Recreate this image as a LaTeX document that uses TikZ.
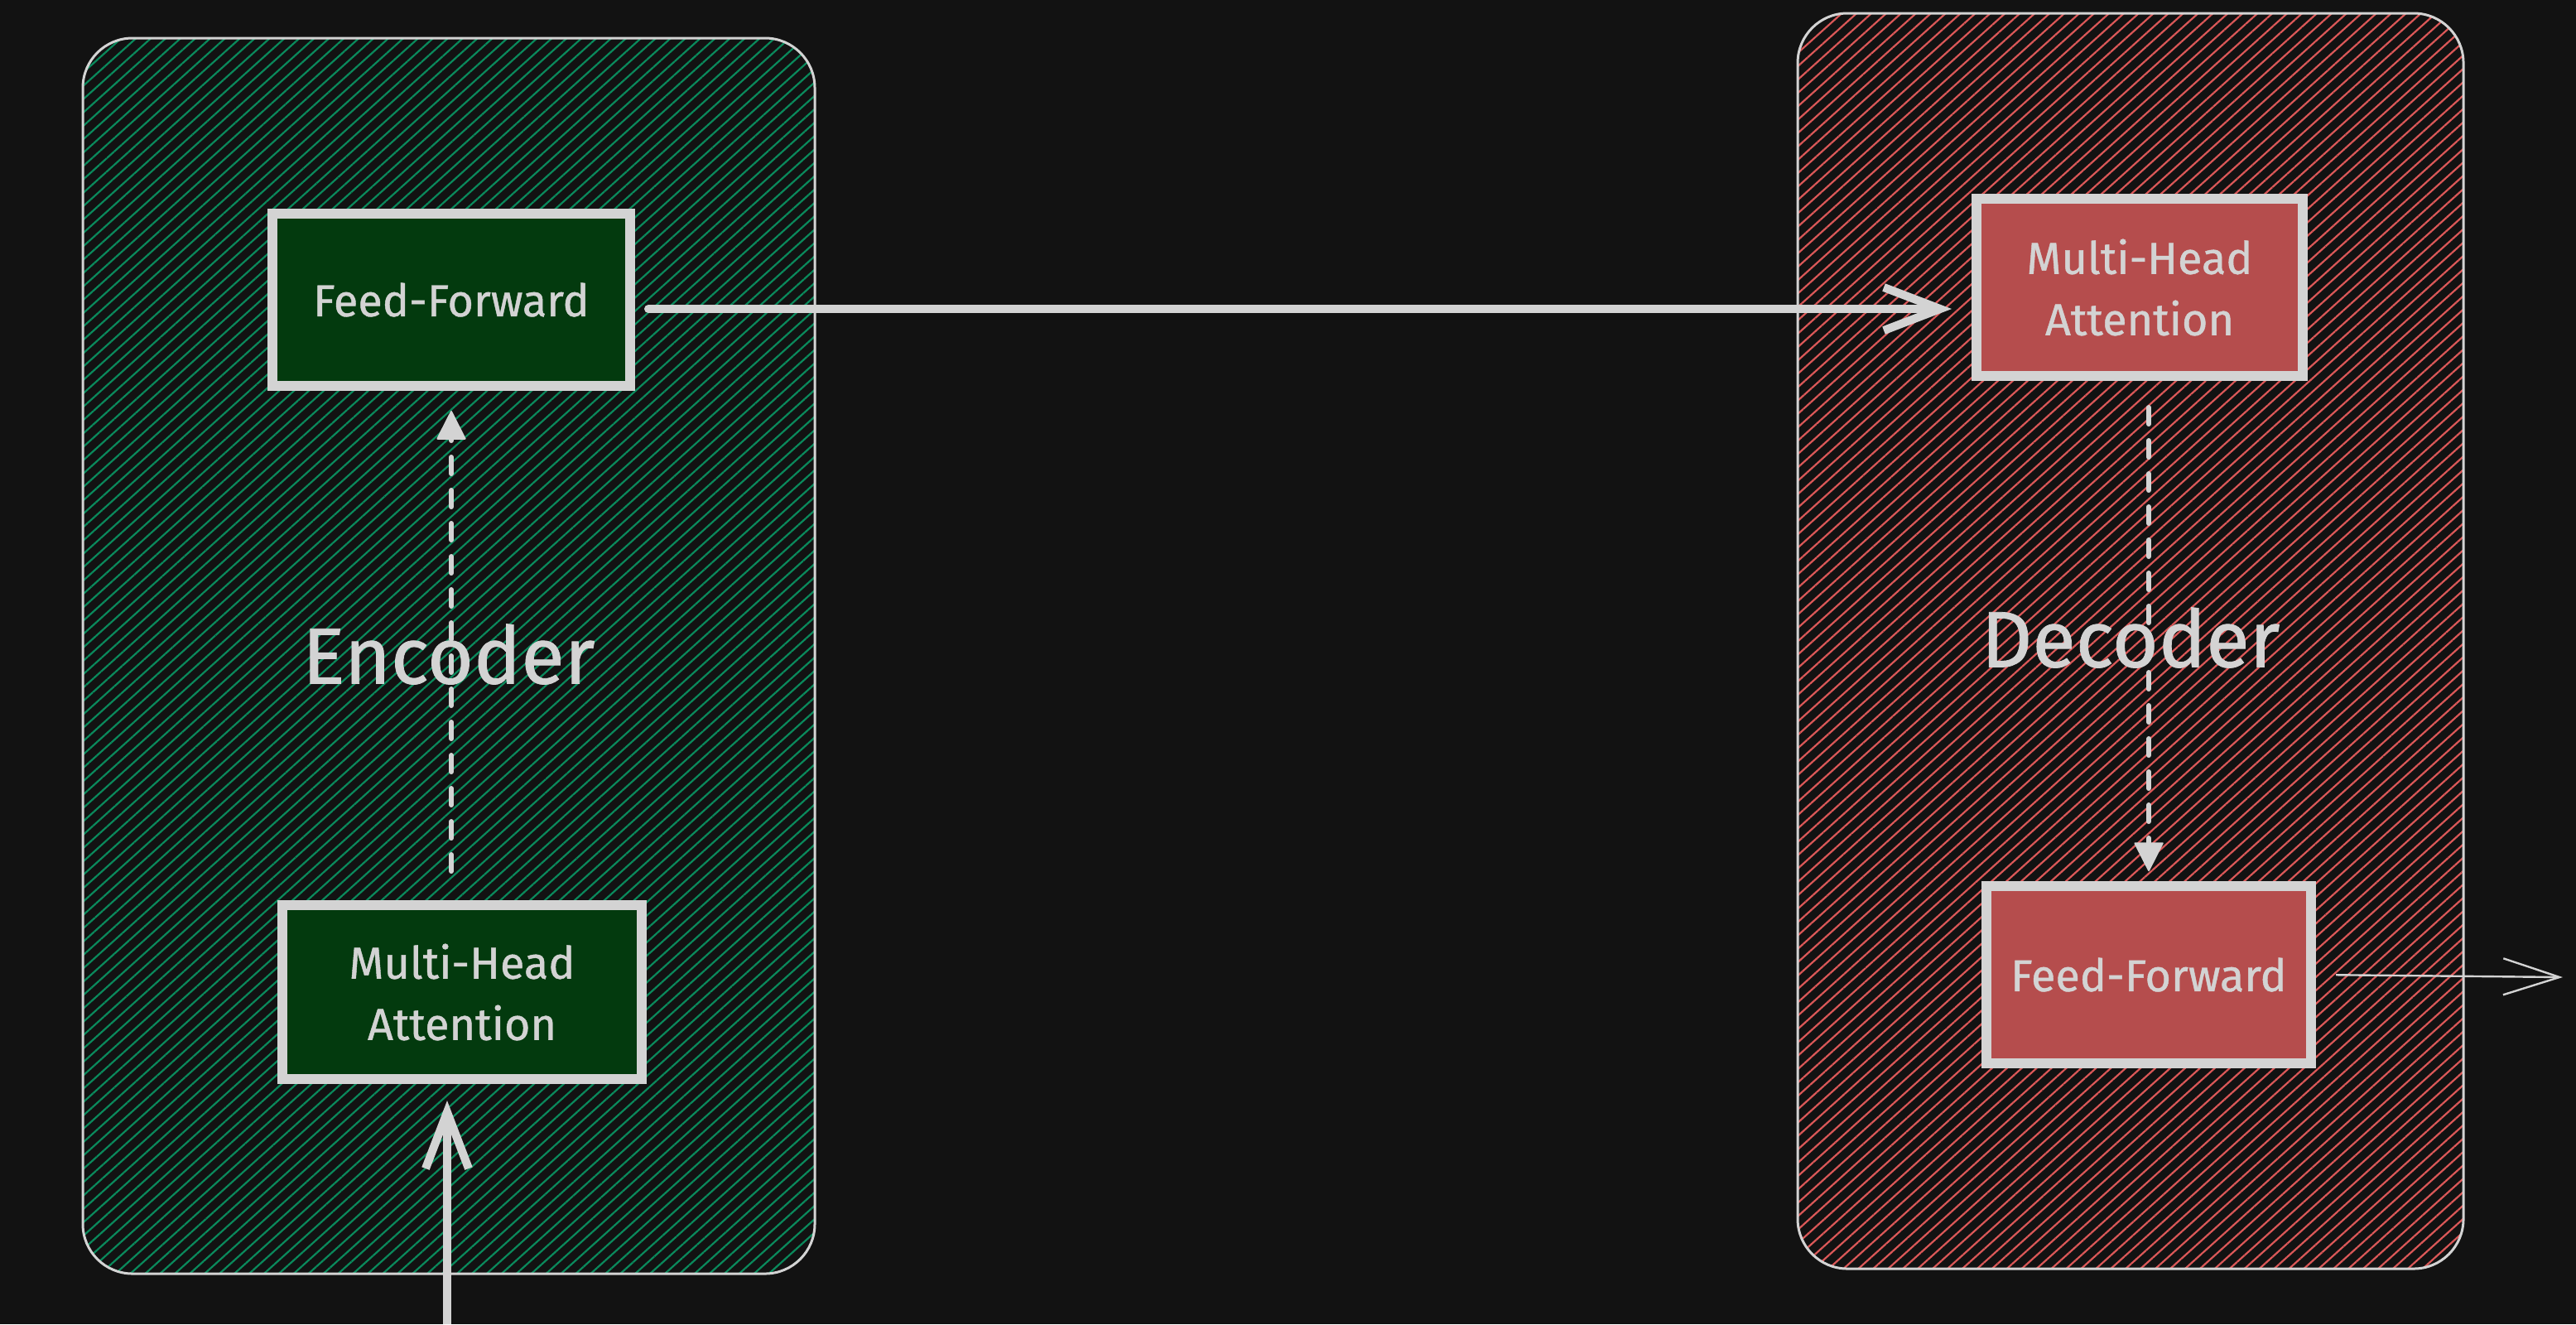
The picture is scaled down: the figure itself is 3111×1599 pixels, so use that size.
\documentclass[tikz,border=0pt]{standalone}
\usepackage{fontspec}
\setmainfont{Fira Sans}[FakeBold=0.8]
\usetikzlibrary{arrows.meta,positioning,calc,patterns.meta}

\definecolor{bgdark}{HTML}{121212}
\definecolor{edgegray}{HTML}{D3D3D3}
\definecolor{enchatch}{HTML}{0A8A5C}
\definecolor{encfill}{HTML}{033A0E}
\definecolor{dechatch}{HTML}{DB5858}
\definecolor{decfill}{HTML}{B54D4D}

\tikzset{
	block/.style={rectangle, draw=edgegray, line width=3pt, text=edgegray, align=center, font=\fontsize{13.5}{18.5}\selectfont},
	stack/.style={rectangle, rounded corners=15pt, draw=edgegray, line width=0.75pt},
	title/.style={text=edgegray, font=\fontsize{24}{28}\selectfont},
	flow/.style={draw=edgegray, line width=1.5pt, line cap=round, dash pattern=on 5pt off 5pt, -{Triangle[round, length=9pt, width=9pt, line width=0.5pt, fill=edgegray]}},
	feed/.style={draw=edgegray, line width=2.5pt, line cap=round, -{Straight Barb[length=17pt, width=13pt, line width=2.5pt]}}
}

\begin{document}
\begin{tikzpicture}[x=0.25pt, y=-0.25pt]
						
						\fill[bgdark] (0,0) rectangle (3111,1599);
						\useasboundingbox (0,0) rectangle (3111,1599);
						
						% Encoder side
						\node[stack, minimum width=221pt, minimum height=373pt, pattern={Lines[angle=42, distance=3pt, line width=0.55pt]}, pattern color=enchatch] (enc) at (542,792) {};
						\node[block, fill=encfill, minimum width=108pt, minimum height=52pt] (encff) at (545,362) {Feed-Forward};
						\node[block, fill=encfill, minimum width=108.5pt, minimum height=52.5pt] (encmha) at (558,1198) {Multi-Head\\Attention};
						\node[title] (enctxt) at (542,790) {Encoder};
						
						% Decoder side
						\node[stack, minimum width=201pt, minimum height=379pt, pattern={Lines[angle=42, distance=3pt, line width=0.55pt]}, pattern color=dechatch] (dec) at (2573,774) {};
						\node[block, fill=decfill, minimum width=98.5pt, minimum height=53.5pt] (decmha) at (2584,347) {Multi-Head\\Attention};
						\node[block, fill=decfill, minimum width=98pt, minimum height=53.5pt] (decff) at (2595,1177) {Feed-Forward};
						\node[title] (dectxt) at (2573,770) {Decoder};
						
						% Arrows
						\coordinate (in) at (540,1599);
						\coordinate (out) at (3095,1180);
						\draw[flow, shorten <=8.75pt, shorten >=6pt] (encff.south |- encmha.north) -- (encff.south);
						\draw[flow, shorten <=8pt, shorten >=3pt] (decff.north |- decmha.south) -- (decff.north);
						\draw[feed, line cap=butt, shorten >=5pt] (in) -- (in |- encmha.south);
						\draw[feed, shorten <=4pt, shorten >=6pt] ($(encff.east)+(0,11)$) -- ($(encff.east -| decmha.west)+(0,11)$);
						\draw[draw=edgegray, line width=0.6pt, shorten <=6pt, -{Straight Barb[length=17pt, width=11pt, line width=0.6pt]}] (decff.east) -- (out);
						
					\end{tikzpicture}
\end{document}
